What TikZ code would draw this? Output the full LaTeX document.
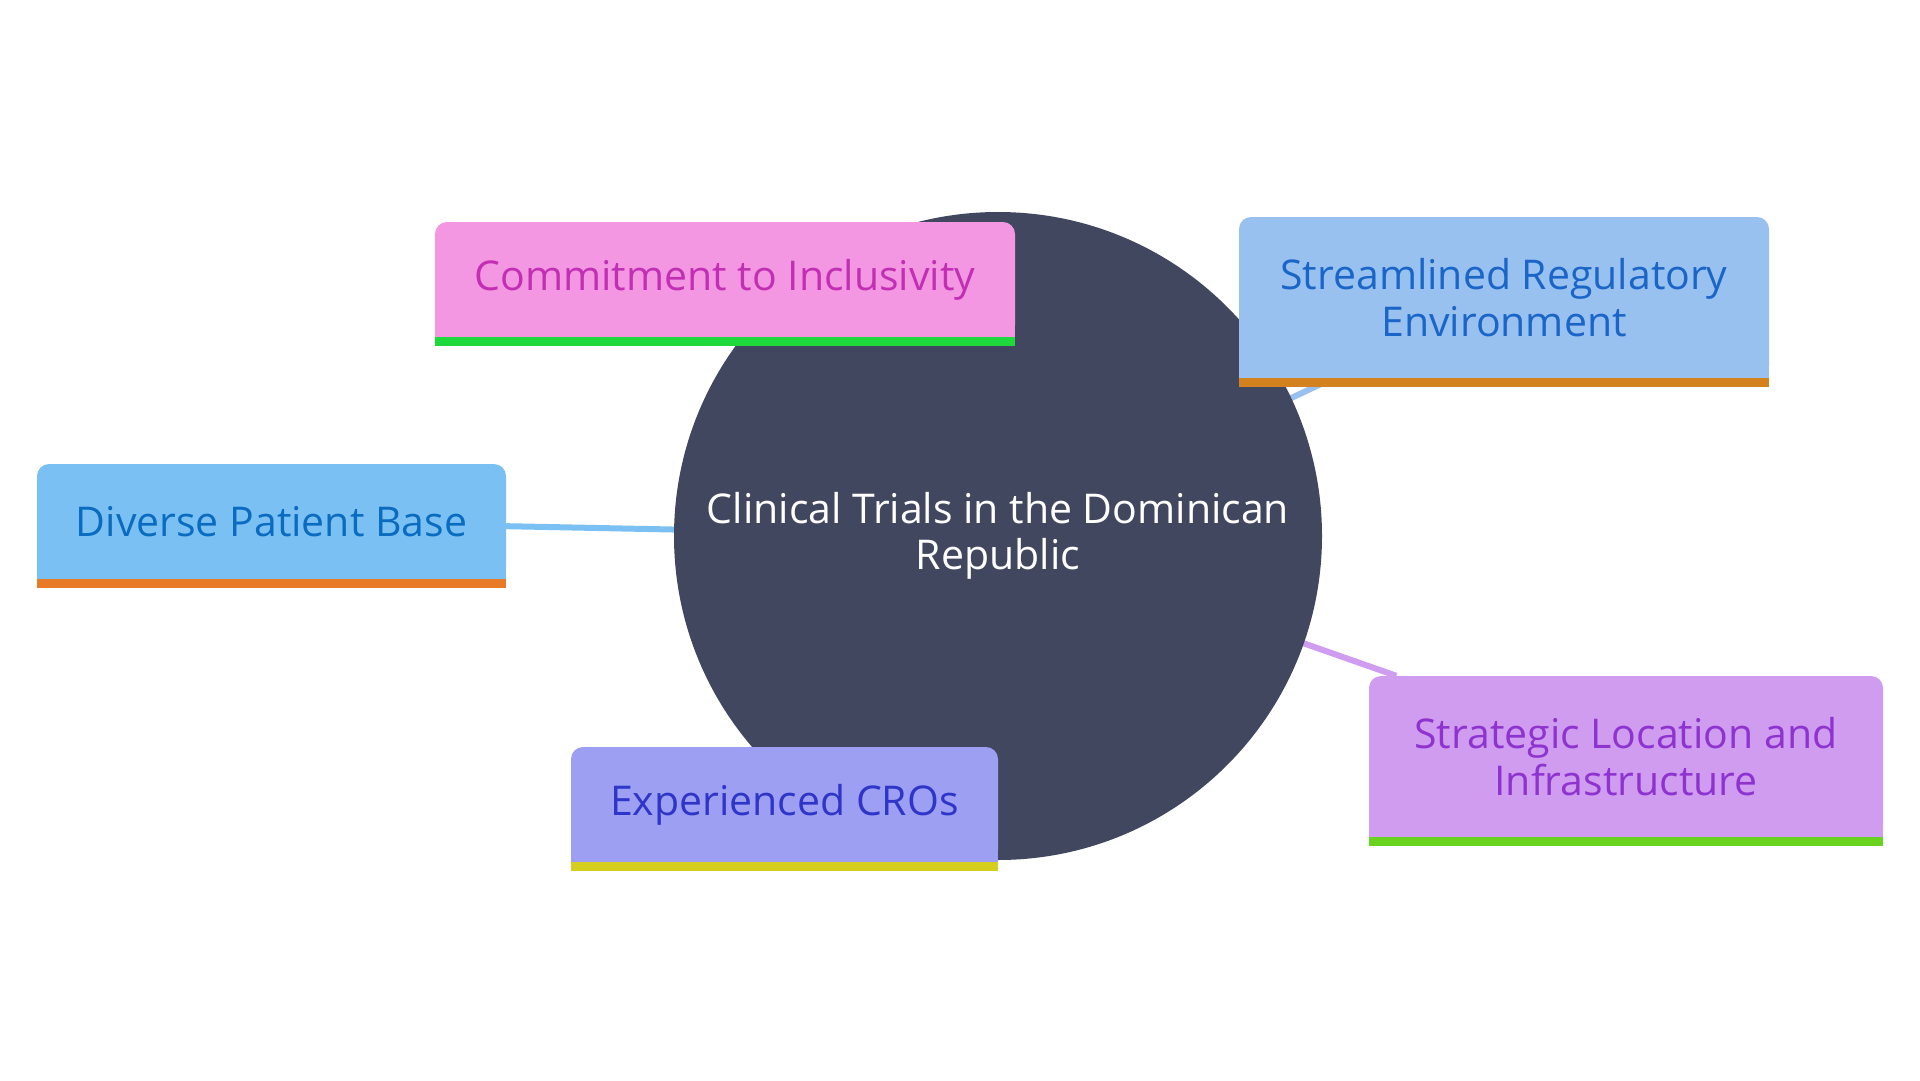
\documentclass[tikz,border=0pt]{standalone}
\usepackage{fontspec}
\setmainfont{Open Sans}
\usetikzlibrary{backgrounds}

\definecolor{hubcol}{HTML}{424760}
\definecolor{cifill}{HTML}{F397E3}\definecolor{citext}{HTML}{C22FB4}\definecolor{cibar}{HTML}{1ED83C}
\definecolor{srfill}{HTML}{99C1EF}\definecolor{srtext}{HTML}{1A66C8}\definecolor{srbar}{HTML}{D4811F}
\definecolor{dpfill}{HTML}{7BC0F2}\definecolor{dptext}{HTML}{0A6CC0}\definecolor{dpbar}{HTML}{E87B28}
\definecolor{slfill}{HTML}{CF9CF0}\definecolor{sltext}{HTML}{8F33D0}\definecolor{slbar}{HTML}{69D21E}
\definecolor{ecfill}{HTML}{9C9FF2}\definecolor{ectext}{HTML}{2F35C8}\definecolor{ecbar}{HTML}{D6CE1E}

\begin{document}
\begin{tikzpicture}[x=1pt,y=-1pt,
  box/.style={rectangle, rounded corners=12pt, inner sep=0pt, align=center,
    font=\fontsize{41}{47}\selectfont},
  link/.style={line width=6pt}]
\useasboundingbox (0,0) rectangle (1920,1080);

% centre
\node (hub) [circle, fill=hubcol, minimum size=648pt, inner sep=0pt, text=white,
  align=center, font=\fontsize{41}{46}\selectfont] at (998,536)
  {Clinical Trials in the Dominican\\Republic};

% branches
\node (ci) [box, fill=cifill, text=citext, minimum width=580pt, minimum height=115pt] at (725,279.5) {Commitment to Inclusivity};
\node (sr) [box, fill=srfill, text=srtext, minimum width=530pt, minimum height=161pt] at (1504,297.5) {Streamlined Regulatory\\Environment};
\node (dp) [box, fill=dpfill, text=dptext, minimum width=469pt, minimum height=115pt] at (271.5,521.5) {Diverse Patient Base};
\node (sl) [box, fill=slfill, text=sltext, minimum width=514pt, minimum height=161pt] at (1626,756.5) {Strategic Location and\\Infrastructure};
\node (ec) [box, fill=ecfill, text=ectext, minimum width=427pt, minimum height=115pt] at (784.5,804.5) {Experienced CROs};

% square bottoms and coloured bars
\foreach \n in {ci,sr,dp,sl,ec} {
  \fill[\n fill] ([yshift=14pt]\n.south west) rectangle (\n.south east);
  \fill[\n bar] (\n.south west) rectangle ([yshift=-9pt]\n.south east);
}

\begin{pgfonlayer}{background}
\fill[white] (0,0) rectangle (1920,1080);
\draw[link, cifill] (ci) -- (hub.center);
\draw[link, srfill] (sr) -- (hub.center);
\draw[link, dpfill] (dp) -- (hub.center);
\draw[link, slfill] (sl) -- (hub.center);
\draw[link, ecfill] (ec) -- (hub.center);
\end{pgfonlayer}
\end{tikzpicture}
\end{document}
